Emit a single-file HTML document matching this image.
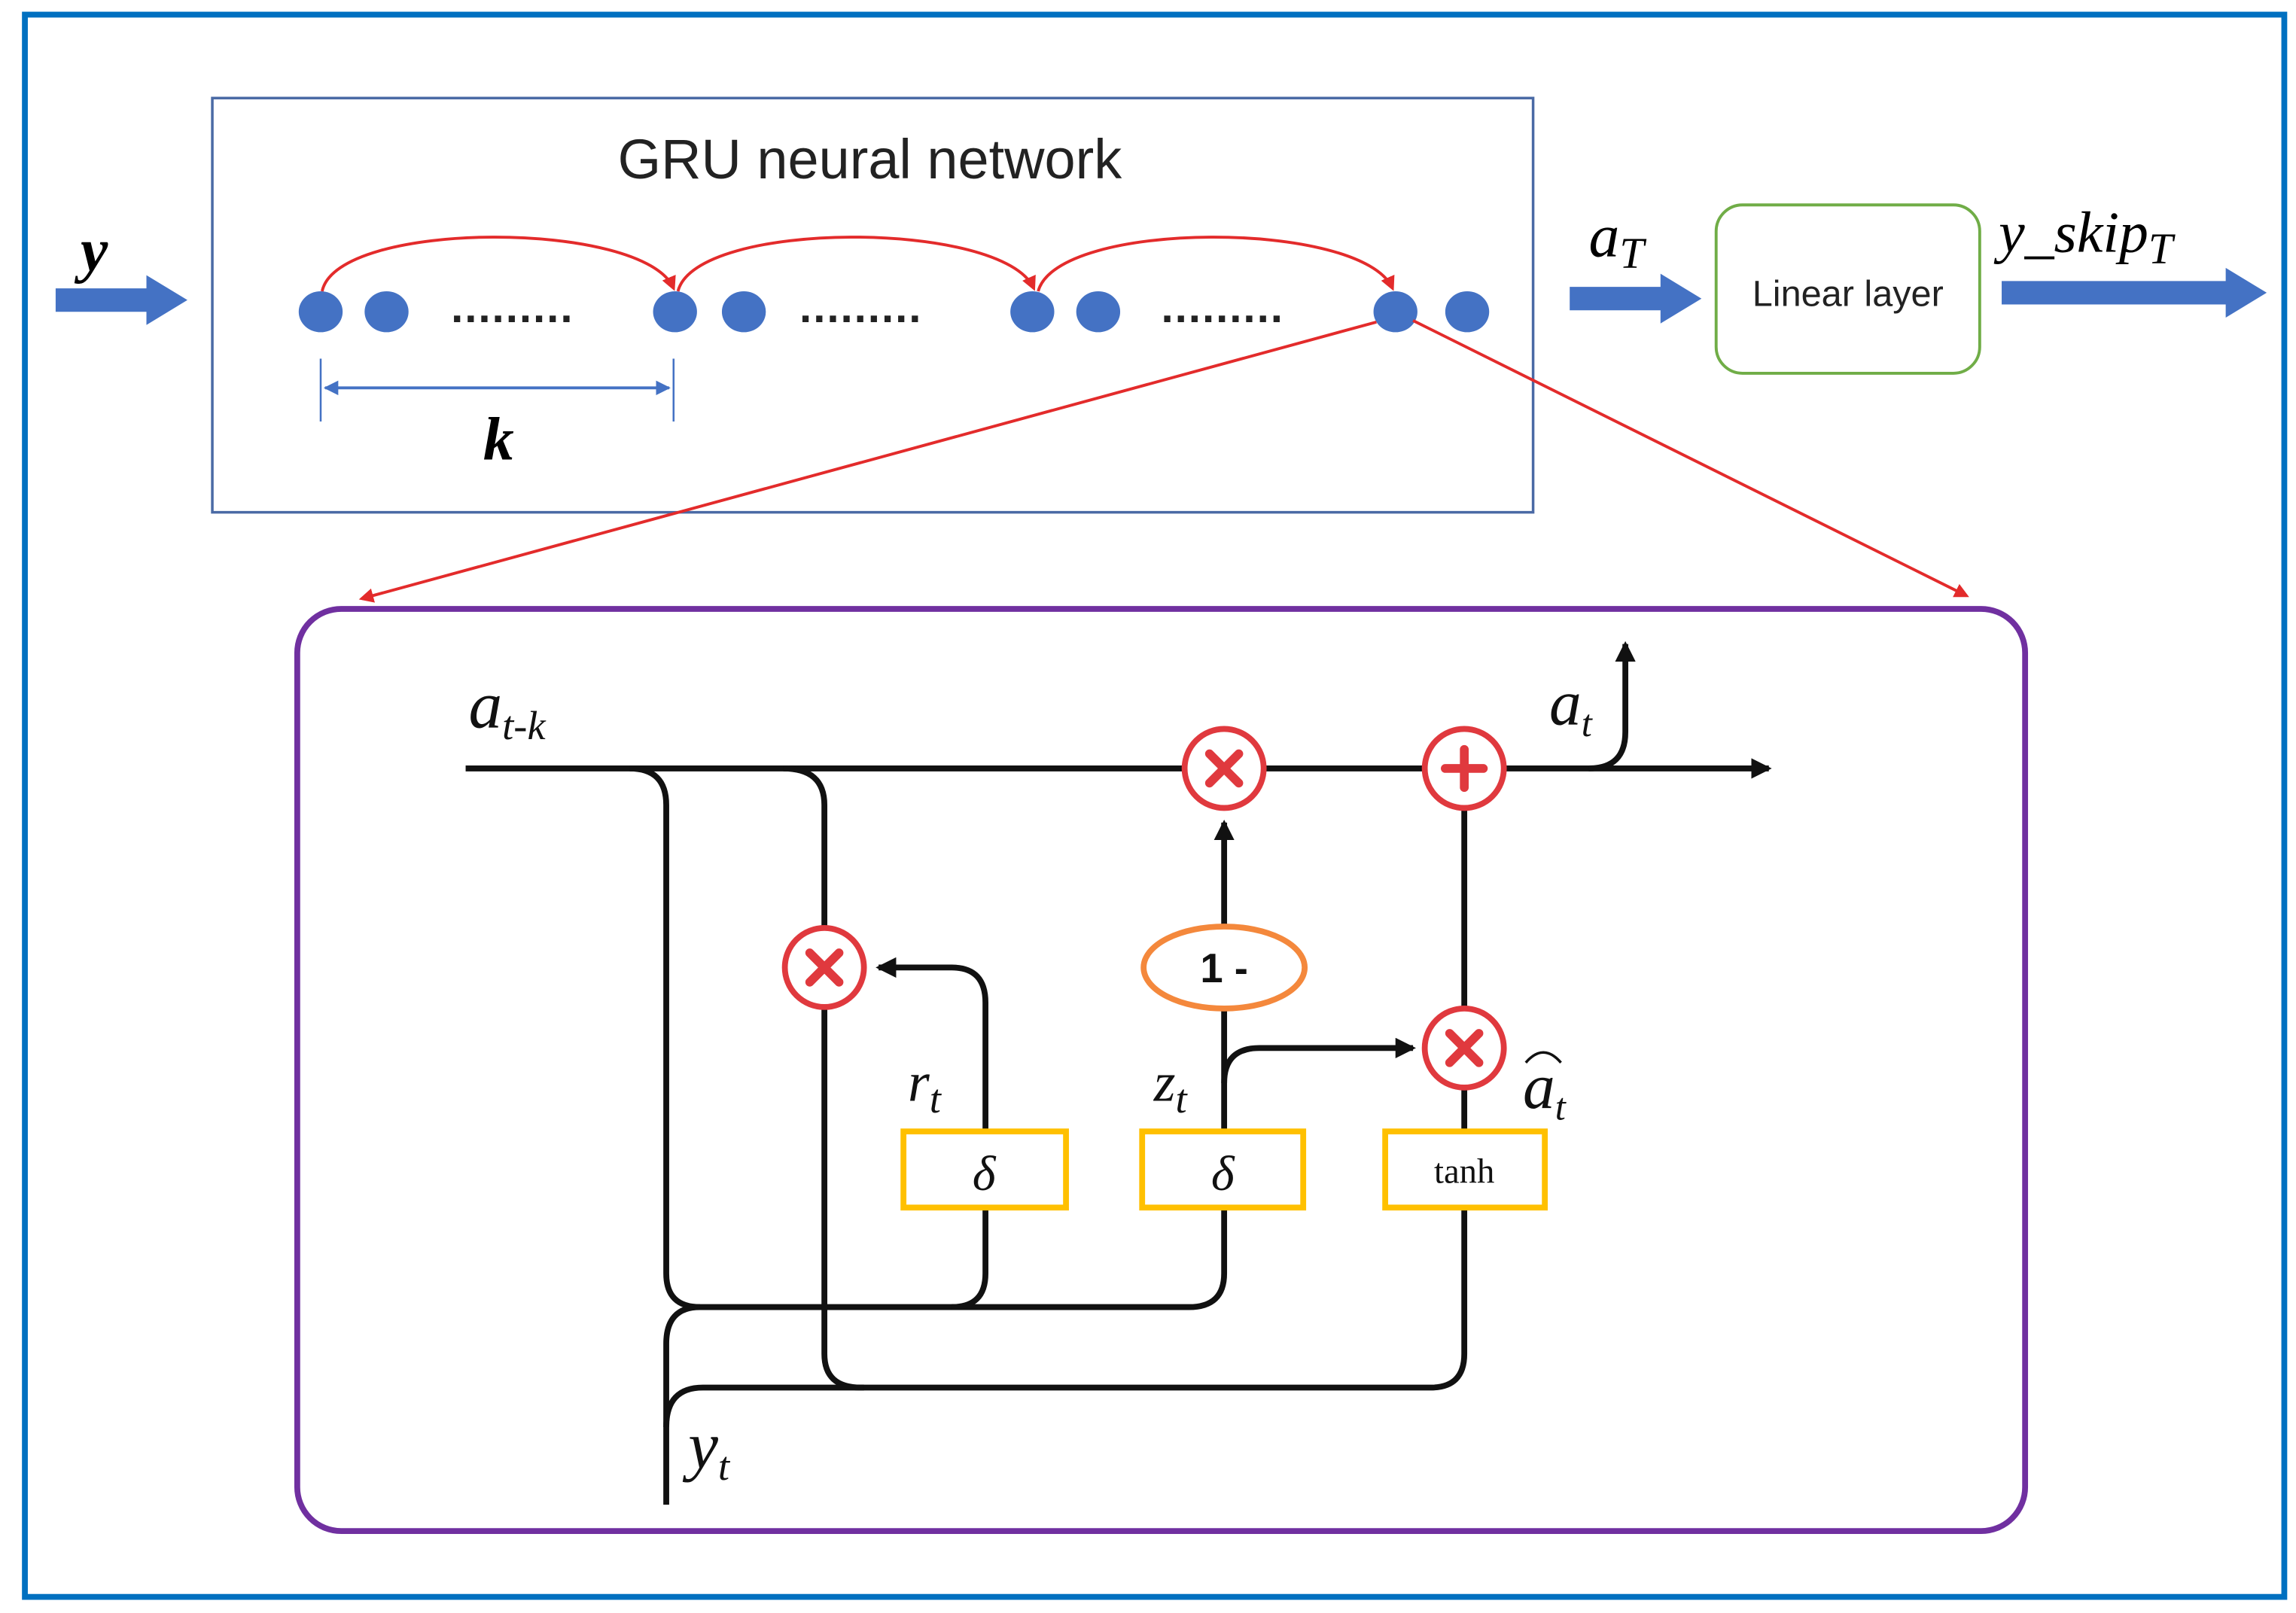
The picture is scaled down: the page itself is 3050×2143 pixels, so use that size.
<!DOCTYPE html>
<html><head><meta charset="utf-8"><style>html,body{margin:0;padding:0;background:#fff}svg{display:block}</style></head>
<body>
<svg width="3050" height="2143" viewBox="0 0 1568 1102" preserveAspectRatio="none" xmlns="http://www.w3.org/2000/svg">
<defs>
<marker id="rh" markerWidth="10" markerHeight="10" refX="8" refY="5" orient="auto" markerUnits="userSpaceOnUse"><path d="M0,0 L10,5 L0,10 z" fill="#e32b2b"/></marker>
<marker id="bh" markerWidth="14" markerHeight="14" refX="12" refY="7" orient="auto" markerUnits="userSpaceOnUse"><path d="M0,0 L14,7 L0,14 z" fill="#111"/></marker>
<marker id="kh" markerWidth="10" markerHeight="10" refX="9" refY="5" orient="auto-start-reverse" markerUnits="userSpaceOnUse"><path d="M0,0 L10,5 L0,10 z" fill="#4472C4"/></marker>
</defs>
<rect x="17" y="10" width="1543" height="1081" fill="#fff" stroke="#0070C0" stroke-width="4"/>
<rect x="145" y="67" width="902" height="283" fill="none" stroke="#4a6aa5" stroke-width="1.8"/>
<text x="594" y="122" font-family="Liberation Sans, sans-serif" font-size="38" text-anchor="middle" fill="#222">GRU neural network</text>
<g fill="#4472C4">
<path d="M38,197 L100,197 L100,188 L128,205 L100,222 L100,213 L38,213 z"/>
<path d="M1072,196 L1134,196 L1134,187 L1162,204 L1134,221 L1134,212 L1072,212 z"/>
<path d="M1367,192 L1520,192 L1520,183 L1548,200 L1520,217 L1520,208 L1367,208 z"/>
</g>
<text x="55" y="185" font-family="Liberation Serif, serif" font-style="italic" font-weight="bold" font-size="42">y</text>
<text x="1085" y="175" font-family="Liberation Serif, serif" font-style="italic" font-size="42">a<tspan font-size="30" dy="8">T</tspan></text>
<text x="1365" y="172" font-family="Liberation Serif, serif" font-style="italic" font-size="40">y_skip<tspan font-size="30" dy="8">T</tspan></text>
<rect x="1172" y="140" width="180" height="115" rx="18" fill="#fff" stroke="#70AD47" stroke-width="2"/>
<text x="1262" y="209" font-family="Liberation Sans, sans-serif" font-size="25" text-anchor="middle" fill="#222">Linear layer</text>
<g fill="#4472C4">
<ellipse cx="219" cy="213" rx="15" ry="14"/><ellipse cx="264" cy="213" rx="15" ry="14"/>
<ellipse cx="461" cy="213" rx="15" ry="14"/><ellipse cx="508" cy="213" rx="15" ry="14"/>
<ellipse cx="705" cy="213" rx="15" ry="14"/><ellipse cx="750" cy="213" rx="15" ry="14"/>
<ellipse cx="953" cy="213" rx="15" ry="14"/><ellipse cx="1002" cy="213" rx="15" ry="14"/>
</g>
<g font-family="Liberation Sans, sans-serif" font-size="30" font-weight="bold" fill="#222" letter-spacing="1">
<text x="308" y="220">.........</text><text x="546" y="220">.........</text><text x="793" y="220">.........</text>
</g>
<g fill="none" stroke="#e32b2b" stroke-width="2">
<path d="M220,199 C230,150 440,150 460,197" marker-end="url(#rh)"/>
<path d="M463,199 C475,150 685,150 706,197" marker-end="url(#rh)"/>
<path d="M709,199 C722,150 930,150 951,197" marker-end="url(#rh)"/>
<path d="M940,220 L247,409" marker-end="url(#rh)"/>
<path d="M965,219 L1343,407" marker-end="url(#rh)"/>
</g>
<g stroke="#4472C4" stroke-width="1.3" fill="none">
<line x1="219" y1="245" x2="219" y2="288"/><line x1="460" y1="245" x2="460" y2="288"/>
<line x1="222" y1="265" x2="457" y2="265" stroke-width="2" marker-start="url(#kh)" marker-end="url(#kh)"/>
</g>
<text x="330" y="314" font-family="Liberation Serif, serif" font-style="italic" font-weight="bold" font-size="42">k</text>
<rect x="203" y="416" width="1180" height="630" rx="30" fill="none" stroke="#7030A0" stroke-width="4"/>
<g fill="none" stroke="#111" stroke-width="4" stroke-linejoin="round">
<line x1="318" y1="525" x2="1208" y2="525" marker-end="url(#bh)"/>
<path d="M1085,525 Q1110,525 1110,500 L1110,440" marker-end="url(#bh)"/>
<path d="M430,525 Q455,525 455,550 L455,870 Q455,893 478,893 L812,893 Q836,893 836,870 L836,825"/>
<path d="M673,825 L673,870 Q673,893 650,893"/>
<path d="M673,773 L673,685 Q673,661 650,661 L600,661" marker-end="url(#bh)"/>
<path d="M535,525 Q563,525 563,550 L563,634"/>
<path d="M563,688 L563,925 Q563,948 588,948 L977,948 Q1000,948 1000,925 L1000,825"/>
<path d="M1000,773 L1000,743"/>
<path d="M1000,689 L1000,552"/>
<path d="M836,773 L836,689"/>
<path d="M836,740 Q836,716 860,716 L965,716" marker-end="url(#bh)"/>
<path d="M836,633 L836,562" marker-end="url(#bh)"/>
<path d="M455,1028 L455,918 Q455,893 478,893"/>
<path d="M455,975 Q455,948 480,948 L590,948"/>
</g>
<g fill="#fff" stroke="#E0393E" stroke-width="4">
<circle cx="836" cy="525" r="27"/><circle cx="1000" cy="525" r="27"/>
<circle cx="563" cy="661" r="27"/><circle cx="1000" cy="716" r="27"/>
</g>
<g stroke="#E0393E" stroke-width="6" stroke-linecap="round">
<path d="M826,515 L846,535 M846,515 L826,535"/>
<path d="M553,651 L573,671 M573,651 L553,671"/>
<path d="M990,706 L1010,726 M1010,706 L990,726"/>
<path d="M1000,512 L1000,538 M987,525 L1013,525"/>
</g>
<ellipse cx="836" cy="661" rx="55" ry="28" fill="#fff" stroke="#F4883C" stroke-width="4"/>
<text x="836" y="671" font-family="Liberation Sans, sans-serif" font-weight="bold" font-size="28" text-anchor="middle" fill="#111">1 -</text>
<g fill="#fff" stroke="#FFC000" stroke-width="4">
<rect x="617" y="773" width="111" height="52"/><rect x="780" y="773" width="110" height="52"/><rect x="946" y="773" width="109" height="52"/>
</g>
<g font-family="Liberation Serif, serif" fill="#111">
<text x="672" y="813" font-size="34" font-style="italic" text-anchor="middle">δ</text>
<text x="835" y="813" font-size="34" font-style="italic" text-anchor="middle">δ</text>
<text x="1000" y="808" font-size="24" text-anchor="middle">tanh</text>
<text x="320" y="497" font-size="46" font-style="italic">a<tspan font-size="28" dy="8">t-k</tspan></text>
<text x="1058" y="495" font-size="44" font-style="italic">a<tspan font-size="26" dy="8">t</tspan></text>
<text x="620" y="752" font-size="38" font-style="italic">r<tspan font-size="28" dy="8">t</tspan></text>
<text x="788" y="752" font-size="38" font-style="italic">z<tspan font-size="28" dy="8">t</tspan></text>
<text x="1040" y="757" font-size="44" font-style="italic">a<tspan font-size="26" dy="8">t</tspan></text>
<text x="470" y="1003" font-size="46" font-style="italic">y<tspan font-size="28" dy="8">t</tspan></text>
</g>
<path d="M1042,726 Q1054,712 1066,726" fill="none" stroke="#111" stroke-width="1.8"/>
</svg>
</body></html>
